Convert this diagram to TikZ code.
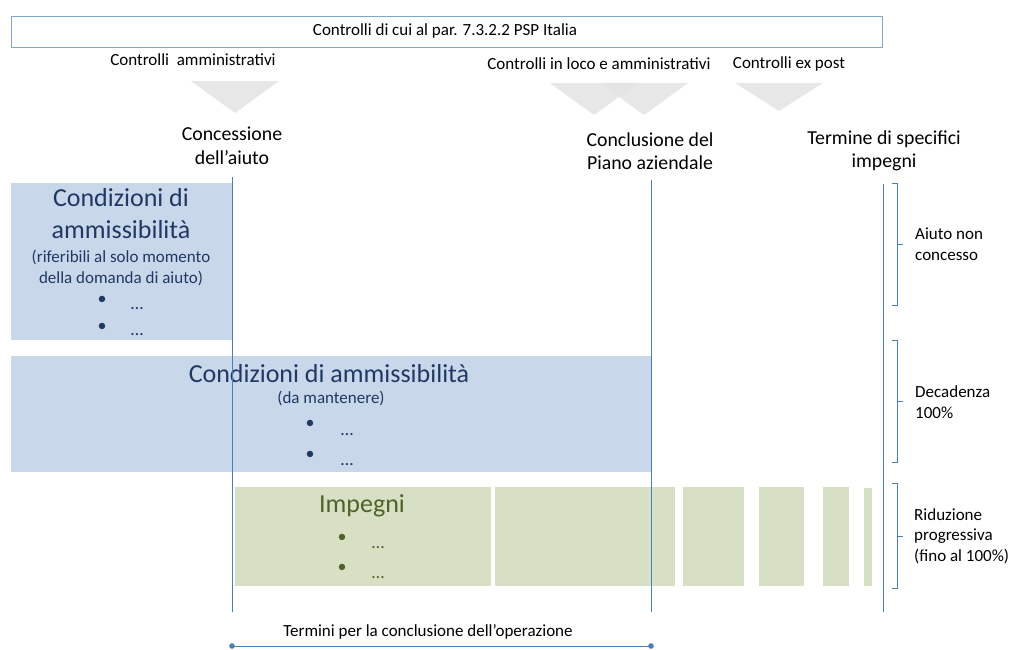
\documentclass[tikz,border=0pt]{standalone}
\usepackage{fontspec}
\setmainfont{Carlito}
\definecolor{lineblue}{HTML}{4A7EBB}
\definecolor{boxblue}{HTML}{C9D7EA}
\definecolor{boxgreen}{HTML}{D7DFC4}
\definecolor{txtblue}{HTML}{1F3864}
\definecolor{txtgreen}{HTML}{4F6228}
\definecolor{trigray}{HTML}{E3E3E3}
\begin{document}
\begin{tikzpicture}[x=1pt,y=-1pt,
  vline/.style={draw=lineblue,line width=0.8pt},
  bluebox/.style={fill=boxblue},
  greenbox/.style={fill=boxgreen},
  tri/.style={fill=trigray,fill opacity=0.85},
  small/.style={font=\fontsize{17}{21}\selectfont,inner sep=0pt},
  mid/.style={font=\fontsize{19.8}{23.5}\selectfont,inner sep=0pt,align=center},
  big/.style={font=\fontsize{26}{32}\selectfont,inner sep=0pt,align=center},
  bul/.style={font=\fontsize{18}{21}\selectfont,inner sep=0pt},
  lab/.style={font=\fontsize{17}{20.5}\selectfont,inner sep=0pt,anchor=west,align=left},
  brace/.style={draw=lineblue,line width=0.8pt}
]
\useasboundingbox (0,0) rectangle (1010,649);
% top box
\node[draw=lineblue!70,line width=0.8pt,minimum width=871pt,minimum height=31pt,anchor=north west,inner sep=0pt] (top) at (11,16) {};
\node[small] (toptxt) at (445,31) {Controlli di cui al par. 7.3.2.2 PSP Italia};
% control labels
\node[small] (ca) at (193,60) {Controlli\ \ amministrativi};
\node[small] (cl) at (599,64) {Controlli in loco e amministrativi};
\node[small] (ce) at (789,64) {Controlli ex post};
% triangles
\fill[tri] (191,81) -- (279,81) -- (235,113) -- cycle;
\fill[tri] (550,83) -- (638,83) -- (594,115) -- cycle;
\fill[tri] (600,83) -- (688,83) -- (644,115) -- cycle;
\fill[tri] (735,83) -- (823,83) -- (779,111) -- cycle;
% milestones
\node[mid] (m1) at (232,146) {Concessione\\dell’aiuto};
\node[mid] (m2) at (650,151) {Conclusione del\\Piano aziendale};
\node[mid] (m3) at (884,151) {Termine di specifici\\impegni};
% box 1
\fill[bluebox] (11,183) rectangle (232,340);
\node[big,text=txtblue] (c1) at (121,214) {Condizioni di\\ammissibilità};
\node[small,text=txtblue,align=center] (c1s) at (121,268) {(riferibili al solo momento\\della domanda di aiuto)};
\node[bul,text=txtblue] (b11) at (102,300) {•};
\node[bul,text=txtblue,anchor=base] (d11) at (137,309) {…};
\node[bul,text=txtblue] (b12) at (102,327) {•};
\node[bul,text=txtblue,anchor=base] (d12) at (137,335) {…};
% box 2
\fill[bluebox] (11,356) rectangle (651,472);
\node[big,text=txtblue] (c2) at (329,374) {Condizioni di ammissibilità};
\node[small,text=txtblue] (c2s) at (331,398) {(da mantenere)};
\node[bul,text=txtblue] (b21) at (310,424) {•};
\node[bul,text=txtblue,anchor=base] (d21) at (347,435) {…};
\node[bul,text=txtblue] (b22) at (310,455) {•};
\node[bul,text=txtblue,anchor=base] (d22) at (347,465) {…};
% green boxes
\fill[greenbox] (235,487) rectangle (491,586);
\fill[greenbox] (495,487) rectangle (675,586);
\fill[greenbox] (683,487) rectangle (744,586);
\fill[greenbox] (759,487) rectangle (804,586);
\fill[greenbox] (823,487) rectangle (849,586);
\fill[greenbox] (864,488) rectangle (872,586);
\node[big,text=txtgreen] (imp) at (362,506) {Impegni};
\node[bul,text=txtgreen] (b31) at (342,538) {•};
\node[bul,text=txtgreen,anchor=base] (d31) at (378,548) {…};
\node[bul,text=txtgreen] (b32) at (342,568) {•};
\node[bul,text=txtgreen,anchor=base] (d32) at (378,578) {…};
% vertical lines
\coordinate (v1t) at (232,177); \coordinate (v1b) at (232,612);
\coordinate (v2t) at (651,180); \coordinate (v2b) at (651,612);
\coordinate (v3t) at (883,184); \coordinate (v3b) at (883,612);
\draw[vline] (v1t) -- (v1b);
\draw[vline] (v2t) -- (v2b);
\draw[vline] (v3t) -- (v3b);
% braces
\draw[brace] (892,183) -- (897,183) -- (897,305) -- (892,305) (897,244) -- (903,244);
\draw[brace] (892,340) -- (897,340) -- (897,462) -- (892,462) (897,401) -- (903,401);
\draw[brace] (892,483) -- (897,483) -- (897,588) -- (892,588) (897,536) -- (903,536);
\node[lab] (l1) at (915,244) {Aiuto non\\concesso};
\node[lab] (l2) at (915,402) {Decadenza\\100\%};
\node[lab] (l3) at (914,536) {Riduzione\\progressiva\\(fino al 100\%)};
% bottom
\node[small] (term) at (428,632) {Termini per la conclusione dell’operazione};
\coordinate (t1) at (232,646); \coordinate (t2) at (651,646);
\draw[vline] (t1) -- (t2);
\fill[lineblue] (t1) circle (2.8pt) (t2) circle (2.8pt);
\end{tikzpicture}
\end{document}
